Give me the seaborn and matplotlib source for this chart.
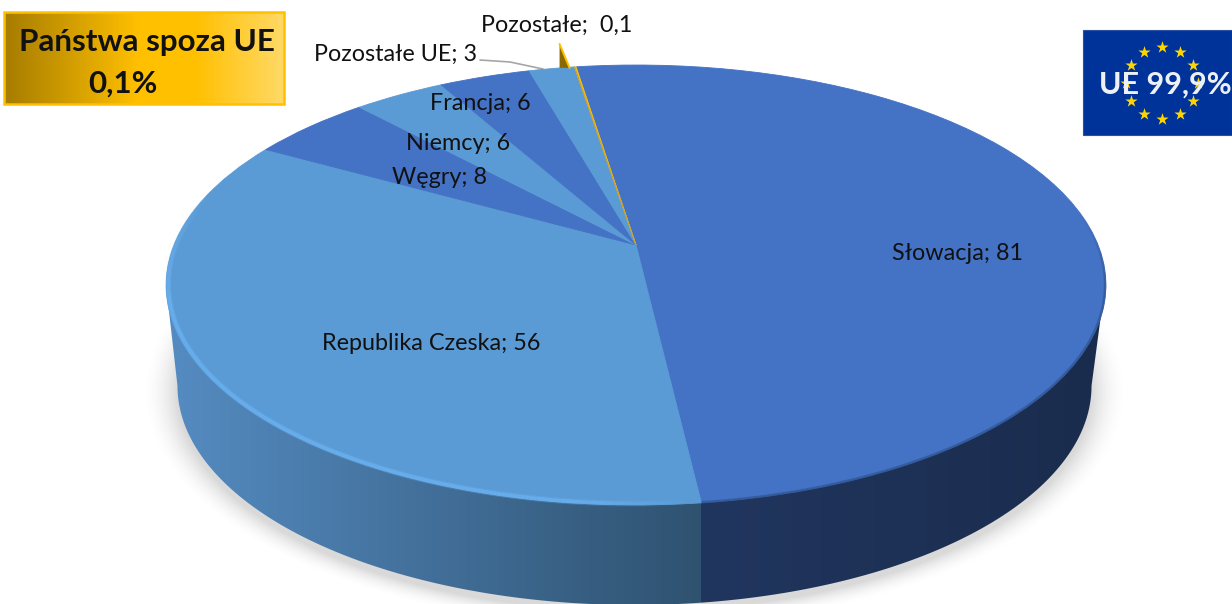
import numpy as np
import matplotlib
matplotlib.use("Agg")
import matplotlib.pyplot as plt
import matplotlib.transforms as mtransforms
from matplotlib.colors import LinearSegmentedColormap, to_rgb
from matplotlib.patches import Polygon, Rectangle
from matplotlib.collections import LineCollection
import seaborn as sns

categories = ["Słowacja", "Republika Czeska", "Węgry", "Niemcy", "Francja", "Pozostałe UE", "Pozostałe"]
values = [81, 56, 8, 6, 6, 3, 0.1]
value_labels = ["81", "56", "8", "6", "6", "3", " 0,1"]
slice_colors = ["#4472C4", "#5B9BD5", "#4472C4", "#5B9BD5", "#4472C4", "#5B9BD5", "#FFC000"]
box_lines = ["Państwa spoza UE", "0,1%"]
flag_text = "UE 99,9%"

sns.set_theme(style="white")
plt.rcParams["font.family"] = ["Lato", "DejaVu Sans"]
W, H = 1232, 604
fig = plt.figure(figsize=(W / 100, H / 100), dpi=100)
ax = fig.add_axes([0, 0, 1, 1])

AX, AY, SX, SY, B = 636.0, 245.0, 462.0, 212.7, 0.1818


def project(xy):
    xy = np.asarray(xy, float)
    d = 1 + B * xy[..., 1]
    return np.stack([AX + SX * xy[..., 0] / d, AY - SY * xy[..., 1] / d], axis=-1)


class Perspective(mtransforms.Transform):
    input_dims = output_dims = 2

    def transform_non_affine(self, values):
        return project(values)


START = 98.8
wedges, _ = ax.pie(values, colors=slice_colors, startangle=START, counterclock=False,
                   radius=1, center=(0, 0),
                   wedgeprops=dict(linewidth=0.6, zorder=3))
persp = Perspective() + ax.transData
for w, c in zip(wedges, slice_colors):
    w.set_transform(persp)
    w.set_edgecolor(c)
    w.set_zorder(3)
ax.set_aspect("auto")
ax.set_xlim(0, W)
ax.set_ylim(H, 0)
ax.set_axis_off()

angles = np.radians(START - 360 * np.cumsum(values) / np.sum(values))
rim = lambda a, r=1.0: project(np.stack([r * np.cos(a), r * np.sin(a)], axis=-1))
split_x = rim(angles[0])[0]
gold_rim = rim(angles[-2])

# soft shadow under the disc
LX, LY, LRX, LRY = 634.5, 386.0, 457.0, 219.0
yy, xx = np.mgrid[0:H, 0:W] + 0.5
dist = (np.sqrt(((xx - LX) / LRX) ** 2 + ((yy - LY - 6) / LRY) ** 2) - 1) * 290
shadow = np.zeros((H, W, 4))
shadow[..., 3] = 0.15 * np.clip(1 - dist / 24, 0, 1) ** 2
ax.imshow(shadow, extent=(0, W, H, 0), aspect="auto", zorder=0, interpolation="bilinear")

# side wall: lower half of the base ellipse joined up to the widest points of the top face
t = np.linspace(0, np.pi, 240)
wall_low = np.c_[LX + LRX * np.cos(t), LY + LRY * np.sin(t)]
wall_pts = np.vstack([[[1105, 285]], wall_low, [[166, 285]]])
wall = Polygon(wall_pts, closed=True, fc="none", ec="none")
ax.add_patch(wall)
cols = np.zeros((2, W, 3))
xs = np.arange(W) + 0.5
light = np.array([to_rgb("#558CC2"), to_rgb("#2F5270")])
dark = np.array([to_rgb("#21365F"), to_rgb("#1A2C4D")])
for i in range(3):
    cols[:, :, i] = np.where(xs < split_x,
                             np.interp(xs, [165, split_x], light[:, i]),
                             np.interp(xs, [split_x, 1105], dark[:, i]))
wall_im = ax.imshow(cols, extent=(0, W, H, 0), aspect="auto", zorder=1)
wall_im.set_clip_path(wall)

# bevel of the top face: a soft highlight over the pale slice, a soft dark edge over the dark one
a = np.linspace(angles[0] - 0.01, np.radians(90 - 285), 260)
p = rim(a, 0.9955)
segs = np.stack([p[:-1], p[1:]], axis=1)
n = np.arange(len(segs))
fade = np.clip(np.minimum(n / 30, (len(segs) - n) / 70), 0, 1)
for lw, al in [(4.2, 0.3), (2.6, 0.75)]:
    rgba = np.tile(np.r_[to_rgb("#6BB2F2"), 1.0], (len(segs), 1))
    rgba[:, 3] = fade * al
    ax.add_collection(LineCollection(segs, colors=rgba, linewidths=lw, zorder=4, capstyle="butt"))
a = np.linspace(np.radians(8), angles[0], 200)
p = rim(a, 0.9985)
segs = np.stack([p[:-1], p[1:]], axis=1)
n = np.arange(len(segs))
rgba = np.tile(np.r_[to_rgb("#2A4A80"), 1.0], (len(segs), 1))
rgba[:, 3] = np.clip(n / 40, 0, 1) * 0.55
ax.add_collection(LineCollection(segs, colors=rgba, linewidths=1.8, zorder=4))

# tiny slice pulled out of the disc
tip = np.array([[gold_rim[0] - 15, gold_rim[1] + 1], [gold_rim[0] - 15, gold_rim[1] - 23], gold_rim + [-5, 1]])
ax.add_patch(Polygon(tip, closed=True, fc="#8A6A00", ec="none", zorder=4))
ax.plot([tip[1, 0], tip[2, 0]], [tip[1, 1], tip[2, 1]], color="#FFC000", lw=1.4, zorder=5)
ax.plot([gold_rim[0], AX], [gold_rim[1], AY], color="#C9A030", lw=0.7, zorder=5)

# data labels
pos = [(958, 253), (431, 344), (439, 177), (458, 143), (480, 103), (396, 54), (557, 25)]
for c, v, (x, y) in zip(categories, value_labels, pos):
    ax.text(x, y, f"{c}; {v}", ha="center", va="center", fontsize=16.8, color="#111111", zorder=6)
ax.plot([480, 510, 543], [60, 62, 69], color="#A6A6A6", lw=1.2, zorder=2)

# gold box
gold = LinearSegmentedColormap.from_list("gold", [(0, "#A67C00"), (0.48, "#FFC000"), (0.68, "#FFC000"), (1, "#FFD966")])
box = Rectangle((4, 12), 280, 92, fc="none", ec="#FFC000", lw=1.8, zorder=6)
ax.add_patch(box)
im = ax.imshow(np.linspace(0, 1, 256)[None, :], cmap=gold, extent=(4, 284, 104, 12), aspect="auto", zorder=5)
ax.text(147, 42, box_lines[0], ha="center", va="center", fontsize=22.6, fontweight="bold", color="#111111", zorder=7)
ax.text(123, 84, box_lines[1], ha="center", va="center", fontsize=22.6, fontweight="bold", color="#111111", zorder=7)

# EU flag
ax.add_patch(Rectangle((1083, 30), W - 1083, 105, fc="#003399", ec="#2A50A5", lw=0.8, zorder=5))
star_a = np.arange(12) * np.pi / 6
ax.scatter(1162 + 36 * np.cos(star_a), 83 + 36 * np.sin(star_a), marker="*", s=85,
           c="#FFD500", linewidths=0, zorder=6)
ax.text(1165, 85, flag_text, ha="center", va="center", fontsize=22, fontweight="bold", color="#EDF0F5", zorder=7)

ax.set_xlim(0, W)
ax.set_ylim(H, 0)
fig.savefig("out.png", dpi=100, facecolor="white")
